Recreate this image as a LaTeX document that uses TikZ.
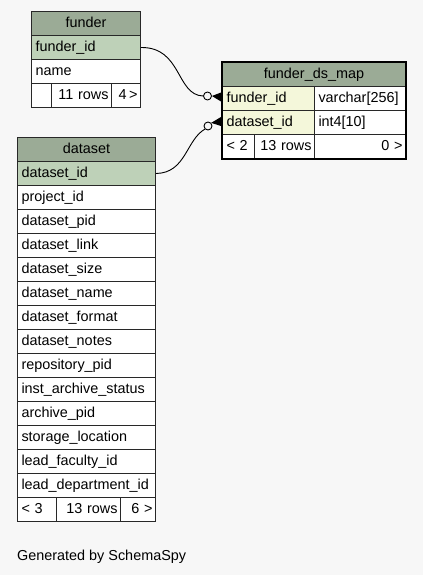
\documentclass[tikz,border=0pt]{standalone}
\usepackage{fontspec}
\setmainfont{Liberation Sans}
\usetikzlibrary{fit}
\definecolor{bgc}{RGB}{247,247,247}
\definecolor{hdrc}{RGB}{155,171,150}
\definecolor{pkc}{RGB}{190,209,184}
\definecolor{fkc}{RGB}{244,247,218}
\definecolor{linec}{RGB}{40,40,40}
\begin{document}
\begin{tikzpicture}[x=1pt,y=-1pt,
  font=\fontsize{14.4}{16}\selectfont,
  cell/.style={draw=linec, line width=1pt, fill=white, anchor=north west,
    inner xsep=4pt, inner ysep=0pt, minimum height=24pt,
    text height=10.5pt, text depth=3pt},
  lcell/.style={cell, align=left, text width=#1-8pt},
  ccell/.style={cell, align=center, text width=#1-8pt},
  rcell/.style={cell, inner xsep=3pt, align=right, text width=#1-6pt},
  hdr/.style={fill=hdrc},
  pk/.style={fill=pkc},
  fk/.style={fill=fkc},
  conn/.style={draw=black, line width=0.9pt},
  odot/.style={circle, draw=black, line width=0.9pt, fill=bgc, minimum size=8pt, inner sep=0pt},
]
\fill[bgc] (0,0) rectangle (423,575);
\useasboundingbox (0,0) rectangle (423,575);

% funder
\node[ccell=109pt, hdr] (f-h) at (31,11) {funder};
\node[lcell=109pt, pk] (f-fid) at (31,35) {funder\_id};
\node[lcell=109pt] (f-name) at (31,59) {name};
\node[lcell=20pt] (f-f1) at (31,83) {};
\node[rcell=60pt] (f-f2) at (51,83) {11 rows};
\node[rcell=29pt] (f-f3) at (111,83) {4\,>};

% funder_ds_map
\node[ccell=183pt, hdr] (m-h) at (222,62) {funder\_ds\_map};
\node[lcell=92pt, fk] (m-fid) at (222,86) {funder\_id};
\node[lcell=91pt] (m-fidt) at (314,86) {varchar[256]};
\node[lcell=92pt, fk] (m-did) at (222,110) {dataset\_id};
\node[lcell=91pt] (m-didt) at (314,110) {int4[10]};
\node[lcell=32pt] (m-f1) at (222,134) {< 2};
\node[rcell=60pt] (m-f2) at (254,134) {13 rows};
\node[rcell=91pt] (m-f3) at (314,134) {0 >};
\node[draw=black, line width=2.4pt, inner sep=0pt, fit=(m-h)(m-f3)(m-f1)] (m-box) {};

% dataset
\node[ccell=138pt, hdr] (d-h) at (17,137) {dataset};
\node[lcell=138pt, pk] (d-did) at (17,161) {dataset\_id};
\node[lcell=138pt] (d-r2) at (17,185) {project\_id};
\node[lcell=138pt] (d-r3) at (17,209) {dataset\_pid};
\node[lcell=138pt] (d-r4) at (17,233) {dataset\_link};
\node[lcell=138pt] (d-r5) at (17,257) {dataset\_size};
\node[lcell=138pt] (d-r6) at (17,281) {dataset\_name};
\node[lcell=138pt] (d-r7) at (17,305) {dataset\_format};
\node[lcell=138pt] (d-r8) at (17,329) {dataset\_notes};
\node[lcell=138pt] (d-r9) at (17,353) {repository\_pid};
\node[lcell=138pt] (d-r10) at (17,377) {inst\_archive\_status};
\node[lcell=138pt] (d-r11) at (17,401) {archive\_pid};
\node[lcell=138pt] (d-r12) at (17,425) {storage\_location};
\node[lcell=138pt] (d-r13) at (17,449) {lead\_faculty\_id};
\node[lcell=138pt] (d-r14) at (17,473) {lead\_department\_id};
\node[lcell=39pt] (d-f1) at (17,497) {< 3};
\node[rcell=64pt] (d-f2) at (56,497) {13 rows};
\node[rcell=35pt] (d-f3) at (120,497) {6 >};

% connectors
\node[odot] (c1) at (207.5,96) {};
\node[odot] (c2) at (208,126) {};
\coordinate (t1) at (221,97);
\coordinate (t2) at (221,121.5);
\draw[conn] (f-fid.east) .. controls (182,47) and (176,95) .. (c1.west);
\draw[conn] (d-did.east) .. controls (186,173) and (186,140) .. (c2.south west);
\fill[black] (c1.east) -- ([yshift=-4.5pt]t1) -- ([yshift=4.5pt]t1) -- cycle;
\fill[black] (c2.north east) -- ([yshift=-4.5pt]t2) -- ([yshift=4.5pt]t2) -- cycle;

\node[anchor=base west, inner sep=0pt] (gen) at (17,560) {Generated by SchemaSpy};
\end{tikzpicture}
\end{document}
